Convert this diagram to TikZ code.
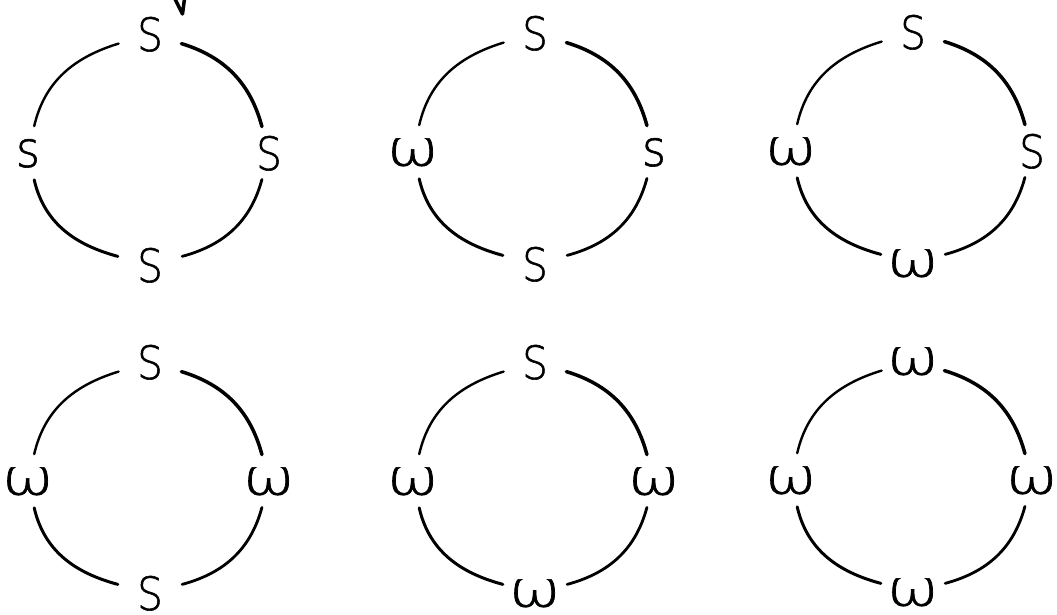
\documentclass[tikz,border=0pt]{standalone}
\usepackage{fontspec}
\usepackage{graphicx}
\usetikzlibrary{shapes.geometric}
\newfontfamily\hand[FakeBold=1.2]{DejaVu Sans ExtraLight}
\newcommand\handfont{\hand\fontsize{46}{48}\selectfont}
\newcommand\ctr[1]{\makebox[0pt]{\smash{\raisebox{-.5\height}{#1}}}}
\newcommand\bigS{\ctr{\handfont\scalebox{0.88}[1]{S}}}
\newcommand\smS{\ctr{\handfont\scalebox{1.0}[1.08]{s}}}
\newcommand\om{\ctr{\handfont\scalebox{1.35}[1.08]{ω}}}
\tikzset{
  tb/.style={ellipse,inner sep=0pt,minimum width=70pt,minimum height=42pt},
  lr/.style={ellipse,inner sep=0pt,minimum width=40pt,minimum height=56pt},
  arcTL/.style={line width=2.4pt,line cap=round},
  arcTR/.style={line width=3.5pt,line cap=round},
  arcBL/.style={line width=3pt,line cap=round},
  arcBR/.style={line width=2.8pt,line cap=round}
}
\newcommand\ring[7]{%
  \node[tb] (#1t) at (#2+2,#3+119) {#4};
  \node[lr] (#1l) at (#2-120,#3) {#5};
  \node[lr] (#1r) at (#2+121,#3) {#6};
  \node[tb] (#1b) at (#2+2,#3-112) {#7};
  \draw[arcTL] (#1t) to[out=197,in=77] (#1l);
  \draw[arcTR] (#1t) to[out=-17,in=105] (#1r);
  \draw[arcBL] (#1l) to[out=283,in=165] (#1b);
  \draw[arcBR] (#1b) to[out=15,in=255] (#1r);
}
\begin{document}
\begin{tikzpicture}[x=1pt,y=1pt]
\useasboundingbox (0,0) rectangle (1057,615);
\clip (0,0) rectangle (1057,615);
\ring{a}{148}{462}{\bigS}{\smS}{\bigS}{\bigS}
\ring{b}{533}{463}{\bigS}{\om}{\smS}{\bigS}
\ring{c}{911}{464}{\bigS}{\om}{\bigS}{\om}
\ring{d}{148}{134}{\bigS}{\om}{\om}{\bigS}
\ring{e}{533}{134}{\bigS}{\om}{\om}{\om}
\ring{f}{911}{135}{\om}{\om}{\om}{\om}
\coordinate (va) at (173,620);
\coordinate (vb) at (182.5,601);
\coordinate (vc) at (185,620);
\draw[line width=3.5pt,line cap=round,line join=round] (va) -- (vb) -- (vc);
\end{tikzpicture}
\end{document}
